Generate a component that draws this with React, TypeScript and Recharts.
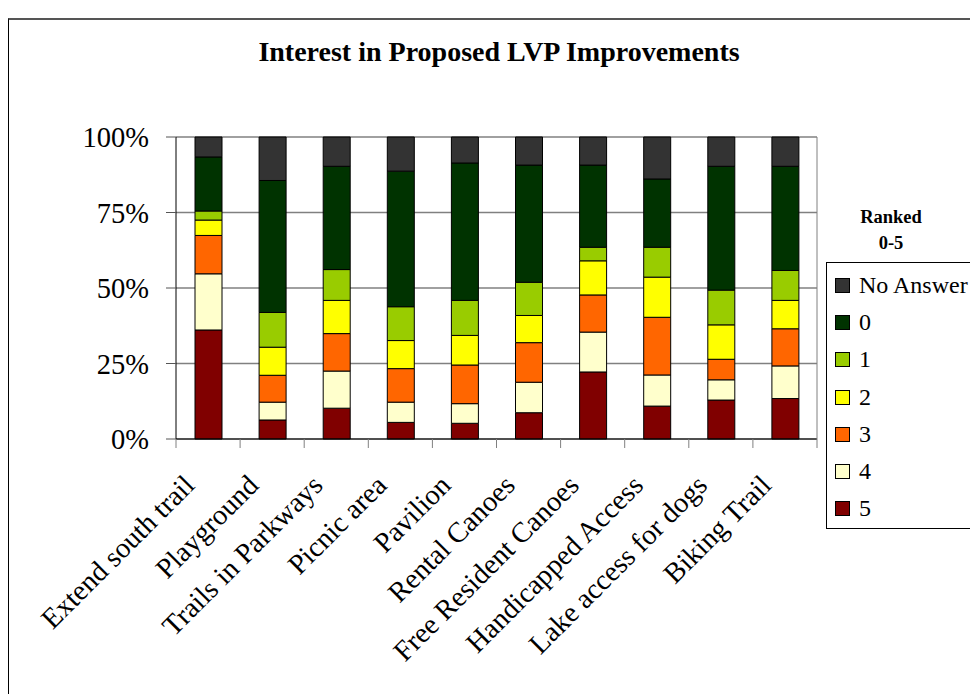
import React from 'react';
import { BarChart, Bar, XAxis, YAxis, CartesianGrid } from 'recharts';

const categories = [
  'Extend south trail',
  'Playground',
  'Trails in Parkways',
  'Picnic area',
  'Pavilion',
  'Rental Canoes',
  'Free Resident Canoes',
  'Handicapped Access',
  'Lake access for dogs',
  'Biking Trail',
];

// share of answers (%) per rank
const rank5 = [36.1, 6.3, 10.2, 5.5, 5.2, 8.7, 22.2, 10.9, 12.9, 13.4];
const rank4 = [18.6, 5.9, 12.3, 6.7, 6.5, 10.1, 13.2, 10.3, 6.7, 10.8];
const rank3 = [12.7, 8.9, 12.4, 11.1, 12.8, 13.1, 12.3, 19.1, 6.8, 12.3];
const rank2 = [5.1, 9.3, 11.0, 9.3, 9.8, 9.0, 11.3, 13.3, 11.4, 9.4];
const rank1 = [3.0, 11.5, 10.2, 11.2, 11.6, 11.0, 4.5, 9.9, 11.5, 9.9];
const rank0 = [17.9, 43.7, 34.2, 44.9, 45.5, 38.8, 27.2, 22.6, 41.0, 34.5];
const noAnswer = [6.6, 14.4, 9.7, 11.3, 8.6, 9.3, 9.3, 13.9, 9.7, 9.7];

const yTicks = [0, 0.25, 0.5, 0.75, 1];

// bottom to top
const series = [
  { key: 'r5', name: '5', values: rank5, color: '#800000' },
  { key: 'r4', name: '4', values: rank4, color: '#FFFFCC' },
  { key: 'r3', name: '3', values: rank3, color: '#FF6600' },
  { key: 'r2', name: '2', values: rank2, color: '#FFFF00' },
  { key: 'r1', name: '1', values: rank1, color: '#99CC00' },
  { key: 'r0', name: '0', values: rank0, color: '#003300' },
  { key: 'na', name: 'No Answer', values: noAnswer, color: '#333333' },
];

const rows = categories.map((name, i) => {
  const row: Record<string, string | number> = { name };
  series.forEach((s) => {
    row[s.key] = s.values[i];
  });
  return row;
});

const FONT = '"Liberation Serif", "Times New Roman", serif';

const CategoryTick = (props: any) => {
  const { x, y, payload, index, visibleTicksCount } = props;
  const half = payload.offset ?? 32;
  const tx = x - 12;
  const ty = y + 48;
  return (
    <g>
      <line x1={x - half} y1={y} x2={x - half} y2={y + 9} stroke="#808080" />
      {index === visibleTicksCount - 1 && (
        <line x1={x + half} y1={y} x2={x + half} y2={y + 9} stroke="#808080" />
      )}
      <text
        x={tx}
        y={ty}
        transform={`rotate(-45, ${tx}, ${ty})`}
        textAnchor="end"
        fontSize={28.5}
        fontFamily={FONT}
        fill="#000"
      >
        {payload.value}
      </text>
    </g>
  );
};

const App = () => {
  return (
    <div
      style={{
        position: 'relative',
        width: 975,
        height: 676,
        marginTop: 10,
        borderTop: '2px solid #555',
        borderLeft: '1px solid #000',
        fontFamily: FONT,
        background: '#fff',
      }}
    >
      <div
        style={{
          position: 'absolute',
          left: 0,
          top: 18,
          width: 980,
          textAlign: 'center',
          fontSize: 28,
          lineHeight: '28px',
          fontWeight: 'bold',
        }}
      >
        Interest in Proposed LVP Improvements
      </div>

      <BarChart
        width={969}
        height={674}
        data={rows}
        stackOffset="expand"
        margin={{ top: 117, right: 160, bottom: 25, left: 67 }}
      >
        <CartesianGrid vertical={false} stroke="#808080" strokeWidth={1.3} />
        <XAxis
          dataKey="name"
          interval={0}
          height={230}
          axisLine={{ stroke: '#000' }}
          tickLine={false}
          tickSize={0}
          tickMargin={0}
          tick={<CategoryTick />}
        />
        <YAxis
          width={100}
          domain={[0, 1]}
          ticks={yTicks}
          tickFormatter={(v: number) => `${Math.round(v * 100)}%`}
          axisLine={{ stroke: '#000' }}
          tickLine={{ stroke: '#555' }}
          tickSize={10}
          tickMargin={17}
          tick={{ fontSize: 28.5, fontFamily: FONT, fill: '#000' }}
        />
        <YAxis
          yAxisId="right"
          orientation="right"
          width={1}
          domain={[0, 1]}
          tick={false}
          tickLine={false}
          axisLine={{ stroke: '#808080' }}
        />
        {series.map((s) => (
          <Bar
            key={s.key}
            dataKey={s.key}
            name={s.name}
            stackId="a"
            fill={s.color}
            stroke="#000"
            strokeWidth={1}
            barSize={27}
            isAnimationActive={false}
          />
        ))}
      </BarChart>

      <div
        style={{
          position: 'absolute',
          left: 832,
          top: 184,
          width: 100,
          textAlign: 'center',
          fontSize: 18.5,
          lineHeight: '26px',
          fontWeight: 'bold',
        }}
      >
        Ranked
        <br />
        0-5
      </div>

      <div
        style={{
          position: 'absolute',
          left: 817,
          top: 242,
          width: 145,
          height: 261,
          border: '1px solid #000',
          paddingTop: 4,
          boxSizing: 'content-box',
        }}
      >
        {[...series].reverse().map((s) => (
          <div
            key={s.key}
            style={{ display: 'flex', alignItems: 'center', height: 37.2, fontSize: 24 }}
          >
            <span
              style={{
                display: 'inline-block',
                width: 13,
                height: 13,
                marginLeft: 8,
                marginRight: 9,
                background: s.color,
                border: '1px solid #000',
              }}
            />
            <span>{s.name}</span>
          </div>
        ))}
      </div>
    </div>
  );
};

export default App;
